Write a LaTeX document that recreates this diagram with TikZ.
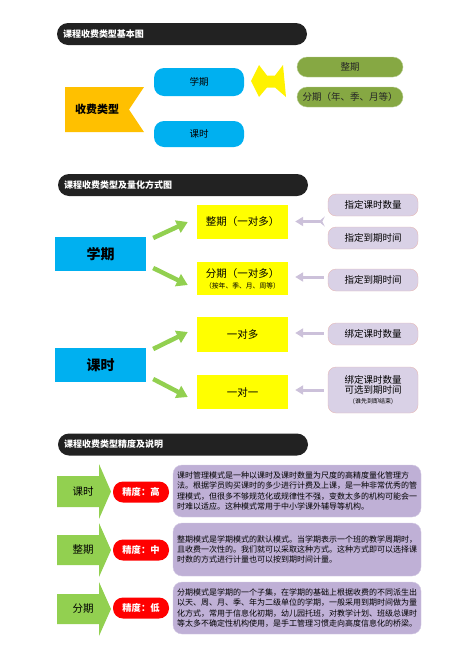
\documentclass[tikz,border=0pt]{standalone}
\usepackage{fontspec}
\setmainfont{Noto Sans CJK SC}
\usepackage{tikz}
\usetikzlibrary{arrows.meta,calc}

\definecolor{hdark}{HTML}{222222}
\definecolor{bluebox}{HTML}{00B0F0}
\definecolor{flagorange}{HTML}{FFC000}
\definecolor{olivepill}{HTML}{86A843}
\definecolor{yellowbox}{HTML}{FFFF00}
\definecolor{lavpill}{HTML}{D9D1E6}
\definecolor{lavborder}{HTML}{E6B9B8}
\definecolor{lavarrow}{HTML}{CCC1DA}
\definecolor{greenarrow}{HTML}{92D050}
\definecolor{purplebox}{HTML}{BFB0D6}
\definecolor{redpill}{HTML}{FF0000}

\begin{document}
\begin{tikzpicture}[x=1pt,y=-1pt,
    hbar/.style = {fill=hdark, rounded corners=11pt, text=white,
      font=\fontsize{9}{10}\selectfont\bfseries, text width=238pt,
      align=left, minimum height=22pt, inner xsep=6pt},
    bluepill/.style = {fill=bluebox, rounded corners=10pt, minimum width=90pt,
      font=\fontsize{9.5}{11}\selectfont},
    olivebox/.style = {fill=olivepill, draw=olivepill!60, rounded corners=10pt,
      minimum width=106pt, minimum height=20pt, text=black!85,
      font=\fontsize{9.5}{11}\selectfont},
    bigblue/.style = {fill=bluebox, minimum width=91pt, minimum height=34pt,
      font=\fontsize{14}{16}\selectfont\bfseries},
    ybox/.style = {fill=yellowbox, minimum width=91pt, minimum height=34pt,
      align=center, font=\fontsize{10.5}{12}\selectfont},
    lpill/.style = {fill=lavpill, draw=lavborder, rounded corners=8pt,
      minimum width=90pt, minimum height=22pt, align=center,
      font=\fontsize{9.5}{11}\selectfont},
    garrow/.style = {draw=greenarrow, line width=4.5pt,
      -{Triangle[length=11pt,width=13pt]}},
    larrow/.style = {draw=lavarrow, line width=3pt,
      -{Triangle[length=8pt,width=9pt]}},
    gblock/.style = {fill=greenarrow},
    rpill/.style = {fill=redpill, rounded corners=10pt, minimum width=56pt,
      minimum height=21pt, text=white, font=\fontsize{9.3}{11}\selectfont\bfseries},
    pbox/.style = {fill=purplebox, draw=purplebox!70, rounded corners=9pt,
      minimum width=248pt, text width=240pt, inner xsep=4pt, align=left,
      font=\fontsize{8}{10.3}\selectfont}
  ]
  \useasboundingbox (0,0) rectangle (474,670);

  % part 1: basic chart
  \node (h1) [hbar] at (182,34) {课程收费类型基本图};

  \fill[flagorange] (65,87) -- (144,87) -- (129,109.5) -- (144,132) -- (65,132) -- cycle;
  \node (fee) at (97,109.5) {\fontsize{11}{12}\selectfont\bfseries 收费类型};

  \node (xq0) [bluepill, minimum height=28pt] at (199,82) {学期};
  \node (ks0) [bluepill, minimum height=26pt] at (199,134) {课时};

  \node (o1) [olivebox] at (350,67) {整期};
  \node (o2) [olivebox] at (350,97) {分期（年、季、月等）};

  \fill[yellow] (251,81) -- (259,65) -- (267,75.5) -- (275,75.5) -- (283,65)
    -- (286,97) -- (275,87.5) -- (267,87.5) -- (259,97) -- cycle;

  % part 2: term
  \node (h2) [hbar] at (183,185) {课程收费类型及量化方式图};

  \node (xq) [bigblue] at (100.5,254) {学期};
  \node (z1) [ybox] at (242.5,222) {整期（一对多）};
  \node (z2) [ybox, minimum height=33pt, inner sep=2pt] at (242.5,278.5)
    {分期（一对多）\\[-1pt]{\fontsize{6.8}{8}\selectfont（按年、季、月、周等）}};

  \node (p1) [lpill] at (373,205) {指定课时数量};
  \node (p2) [lpill] at (373,238) {指定到期时间};
  \node (p3) [lpill] at (373,280) {指定到期时间};

  \draw[garrow] ([xshift=7pt,yshift=16pt]xq.east) -- ([xshift=-9pt]z1.west);
  \draw[garrow] ([xshift=7pt,yshift=-14pt]xq.east) -- ([xshift=-9pt,yshift=-6.5pt]z2.west);

  \coordinate (m12) at ($(p1.west)!.5!(p2.west)$);
  \draw[larrow, {Stealth[reversed,length=6pt,width=10pt,inset=2.5pt]}-{Triangle[length=8pt,width=9pt]}]
    ([xshift=-3pt]m12) -- ([xshift=7pt]m12 -| z1.east);
  \draw[larrow] ([xshift=-4pt,yshift=3pt]p3.west) -- ([xshift=7pt,yshift=3pt]p3.west -| z2.east);

  % part 3: lesson
  \node (ks) [bigblue] at (100.5,365) {课时};
  \node (z3) [ybox, minimum height=35pt] at (242.5,334.5) {一对多};
  \node (z4) [ybox] at (242.5,392) {一对一};

  \node (p4) [lpill] at (373,334) {绑定课时数量};
  \node (p5) [lpill, minimum height=46pt, inner sep=2pt] at (373,390)
    {绑定课时数量\\[-1pt]可选到期时间\\[-1pt]{\fontsize{6}{7}\selectfont (谁先到即结束)}};

  \draw[garrow] ([xshift=7pt,yshift=16pt]ks.east) -- ([xshift=-9pt,yshift=2.5pt]z3.west);
  \draw[garrow] ([xshift=7pt,yshift=-14pt]ks.east) -- ([xshift=-9pt,yshift=-5pt]z4.west);

  \draw[larrow] ([xshift=-4pt,yshift=1pt]p4.west) -- ([xshift=7pt,yshift=1pt]p4.west -| z3.east);
  \draw[larrow] ([xshift=-4pt]p5.west) -- ([xshift=7pt]p5.west -| z4.east);

  % part 4: precision
  \node (h3) [hbar] at (183,444.5) {课程收费类型精度及说明};

  \fill[gblock] (57,476) -- (99,476) -- (99,464) -- (111,491.5) -- (99,519) -- (99,507) -- (57,507) -- cycle;
  \fill[gblock] (57,535) -- (99,535) -- (99,523) -- (111,550) -- (99,577) -- (99,565) -- (57,565) -- cycle;
  \fill[gblock] (57,594) -- (99,594) -- (99,582) -- (111,609) -- (99,636) -- (99,624) -- (57,624) -- cycle;
  \node (t1) at (83,491.5) {\fontsize{10.5}{12}\selectfont 课时};
  \node (t2) at (83,550) {\fontsize{10.5}{12}\selectfont 整期};
  \node (t3) at (83,609) {\fontsize{10.5}{12}\selectfont 分期};

  \node (r1) [rpill] at (141,492) {精度：高};
  \node (r2) [rpill] at (141,550) {精度：中};
  \node (r3) [rpill] at (141,608) {精度：低};

  \node (d1) [pbox, minimum height=52pt] at (297,491) {%
    课时管理模式是一种以课时及课时数量为尺度的高精度量化管理方\\
    法。根据学员购买课时的多少进行计费及上课，是一种非常优秀的管\\
    理模式，但很多不够规范化或规律性不强，变数太多的机构可能会一\\
    时难以适应。这种模式常用于中小学课外辅导等机构。};
  \node (d2) [pbox, minimum height=53pt] at (297,549.5) {%
    整期模式是学期模式的默认模式。当学期表示一个班的教学周期时，\\
    且收费一次性的。我们就可以采取这种方式。这种方式即可以选择课\\
    时数的方式进行计量也可以按到期时间计量。};
  \node (d3) [pbox, minimum height=52pt] at (297,608) {%
    分期模式是学期的一个子集，在学期的基础上根据收费的不同派生出\\
    以天、周、月、季、年为二级单位的学期，一般采用到期时间做为量\\
    化方式，常用于信息化初期，幼儿园托班，对教学计划、班级总课时\\
    等太多不确定性机构使用，是手工管理习惯走向高度信息化的桥梁。};

\end{tikzpicture}
\end{document}
